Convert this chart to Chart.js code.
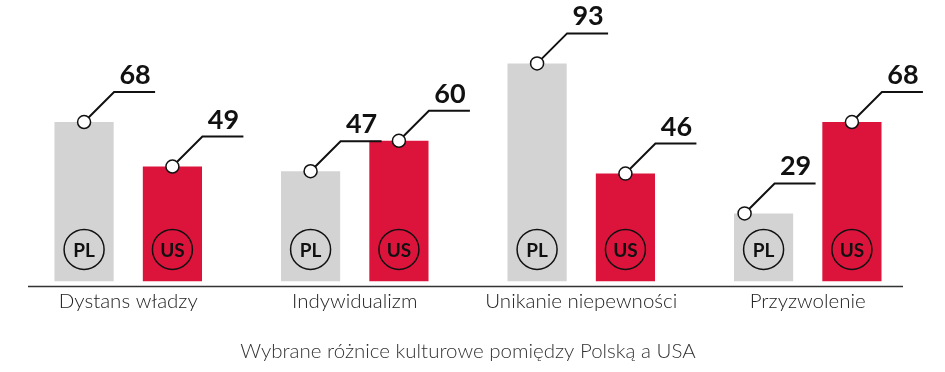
<!DOCTYPE html>
<html>
<head>
<meta charset="utf-8">
<script src="https://cdn.jsdelivr.net/npm/chart.js@4"></script>
<style>
  html, body { margin: 0; padding: 0; background: #fff; }
  #wrap { width: 945px; height: 372px; }
</style>
</head>
<body>
<div id="wrap"><canvas id="mychart" width="945" height="372"></canvas></div>
<script>
const categories = ['Dystans władzy', 'Indywidualizm', 'Unikanie niepewności', 'Przyzwolenie'];
const plValues = [68, 47, 93, 29];
const usValues = [49, 60, 46, 68];
const seriesTags = ['PL', 'US'];
const chartTitle = 'Wybrane różnice kulturowe pomiędzy Polską a USA';

// the 29 callout starts from the left corner of the bar, not the middle
const markerShift = [[0, 0, 0, -19], [0, 0, 0, 0]];

const ctx = document.getElementById('mychart');

const calloutPlugin = {
    id: 'callouts',
    afterDatasetsDraw: (chart) => {
        const c = chart.ctx;
        const area = chart.chartArea;
        c.save();
        chart.data.datasets.forEach((ds, di) => {
            chart.getDatasetMeta(di).data.forEach((bar, i) => {
                // tag circle near the bottom of the bar
                c.beginPath();
                c.arc(bar.x, bar.base - 32, 20, 0, Math.PI * 2);
                c.lineWidth = 1.5;
                c.strokeStyle = '#111';
                c.stroke();
                c.fillStyle = '#111';
                c.font = 'bold 19px Lato';
                c.textAlign = 'center';
                c.textBaseline = 'middle';
                c.fillText(seriesTags[di], bar.x, bar.base - 31);

                // value callout
                const mx = bar.x + markerShift[di][i];
                const my = bar.y;
                c.beginPath();
                c.moveTo(mx, my);
                c.lineTo(mx + 30, my - 30);
                c.lineTo(mx + 71, my - 30);
                c.lineWidth = 2;
                c.strokeStyle = '#111';
                c.stroke();
                c.beginPath();
                c.arc(mx, my, 6.5, 0, Math.PI * 2);
                c.fillStyle = '#fff';
                c.fill();
                c.lineWidth = 1.5;
                c.stroke();
                c.fillStyle = '#111';
                c.font = 'bold 27px Lato';
                c.textBaseline = 'alphabetic';
                c.fillText(ds.data[i], mx + 51, my - 38);
            });
        });
        // base line
        c.beginPath();
        c.moveTo(area.left + 13, area.bottom + 5);
        c.lineTo(area.right - 18, area.bottom + 5);
        c.lineWidth = 1.5;
        c.strokeStyle = '#333';
        c.stroke();
        c.restore();
    }
};

var chart = new Chart(ctx, {
    type: 'bar',
    data: {
        labels: categories,
        datasets: [{
            label: 'PL',
            data: plValues,
            backgroundColor: '#d3d3d3',
            categoryPercentage: 0.78,
            barPercentage: 0.67
        }, {
            label: 'US',
            data: usValues,
            backgroundColor: '#dc143c',
            categoryPercentage: 0.78,
            barPercentage: 0.67
        }]
    },
    options: {
        responsive: false,
        animation: false,
        layout: {
            padding: { top: 47, left: 15, right: 24, bottom: 0 }
        },
        scales: {
            x: {
                grid: { display: false, drawTicks: false },
                border: { display: false },
                ticks: {
                    padding: 8,
                    color: '#222',
                    font: { family: 'Lato', size: 20.5, weight: 300 }
                },
                afterFit: (scale) => { scale.height = 44; }
            },
            y: {
                display: false,
                min: 0,
                max: 100
            }
        },
        plugins: {
            legend: { display: false },
            tooltip: { enabled: false },
            title: {
                display: true,
                text: chartTitle,
                position: 'bottom',
                color: '#333',
                font: { family: 'Lato', size: 20.5, weight: 300 },
                padding: { top: 14, bottom: 8 }
            }
        }
    },
    plugins: [calloutPlugin]
});
</script>
</body>
</html>
